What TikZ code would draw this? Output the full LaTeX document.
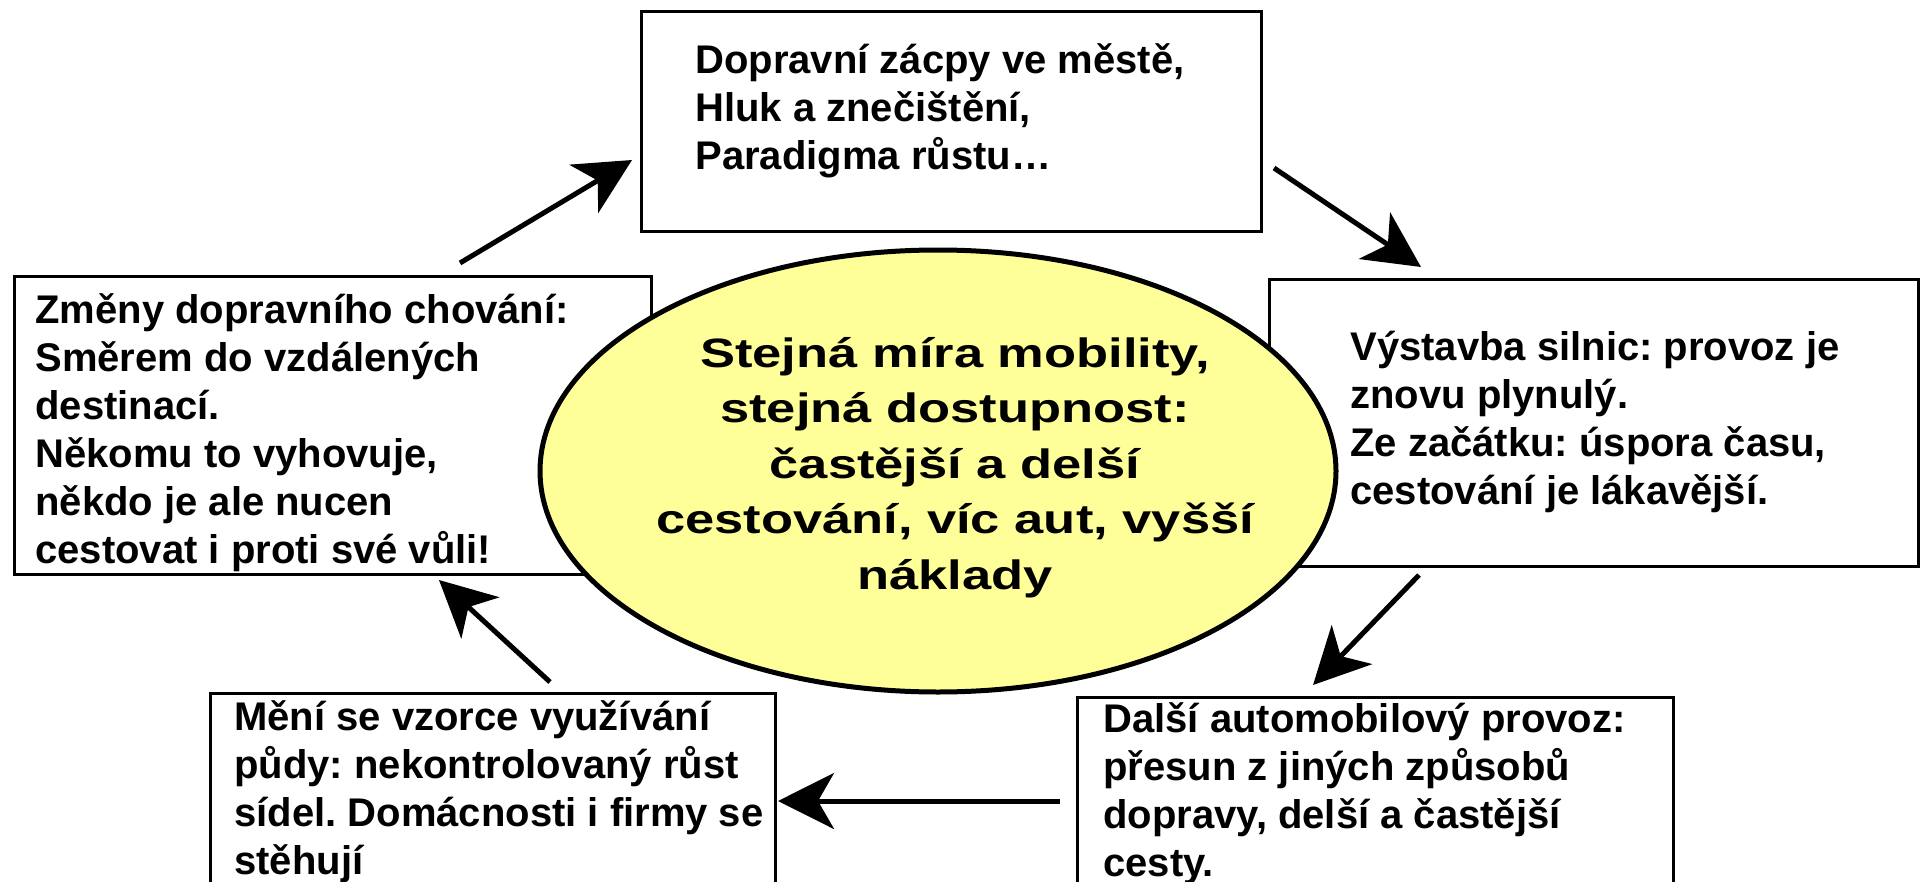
\documentclass[tikz,border=0pt]{standalone}
\usepackage{fontspec}
\setmainfont{Liberation Sans}
\newfontfamily\corefont[FakeStretch=1.28]{Liberation Sans}
\usetikzlibrary{arrows.meta,shapes.geometric}
\definecolor{coreyellow}{HTML}{FFFF99}
\frenchspacing
\tikzset{
  box/.style={draw=black, line width=1.5pt, fill=white, rectangle, inner sep=0pt, anchor=north west},
  boxtext/.style={anchor=north west, inner sep=0pt, align=left, font=\fontsize{20}{24}\selectfont\bfseries\frenchspacing},
  coretext/.style={anchor=north, inner sep=0pt, align=center, font=\corefont\fontsize{20.5}{27.75}\selectfont\bfseries\frenchspacing},
  flow/.style={line width=2.5pt, -{Stealth[length=28pt,width=28pt,inset=8pt]}}
}
\begin{document}
\begin{tikzpicture}[x=0.5pt,y=-0.5pt]
\useasboundingbox (0,0) rectangle (1920,882);
\clip (0,0) rectangle (1920,882);
% boxes
\node[box, minimum width=310pt, minimum height=110pt] (top) at (640,10) {};
\node[box, minimum width=318.75pt, minimum height=149pt] (left) at (12.5,275) {};
\node[box, minimum width=324.5pt, minimum height=143.5pt] (right) at (1268,278) {};
\node[box, minimum width=282.5pt, minimum height=120pt] (bl) at (209,692) {};
\node[box, minimum width=298pt, minimum height=120pt] (br) at (1076,696) {};
% centre ellipse
\node[ellipse, draw=black, line width=2.5pt, fill=coreyellow, minimum width=398pt, minimum height=221pt] (core) at (938,471) {};
\node[coretext] (coretxt) at (955,328) {\strut Stejná míra mobility,\\stejná dostupnost:\\častější a delší\\cestování, víc aut, vyšší\\náklady};
% texts
\node[boxtext] (toptxt) at (695,39.4) {\strut Dopravní zácpy ve městě,\\Hluk a znečištění,\\Paradigma růstu…};
\node[boxtext] (lefttxt) at (35,289.4) {\strut Změny dopravního chování:\\Směrem do vzdálených\\destinací.\\Někomu to vyhovuje,\\někdo je ale nucen\\cestovat i proti své vůli!};
\node[boxtext] (righttxt) at (1350,326.4) {\strut Výstavba silnic: provoz je\\znovu plynulý.\\Ze začátku: úspora času,\\cestování je lákavější.};
\node[boxtext] (bltxt) at (234,696.4) {\strut Mění se vzorce využívání\\půdy: nekontrolovaný růst\\sídel. Domácnosti i firmy se\\stěhují};
\node[boxtext] (brtxt) at (1103,698.4) {\strut Další automobilový provoz:\\přesun z jiných způsobů\\dopravy, delší a častější\\cesty.};
% arrow end points
\coordinate (a1s) at (460,263); \coordinate (a1e) at (632,160);
\coordinate (a2s) at (1274,168); \coordinate (a2e) at (1421,267);
\coordinate (a3s) at (1419,575); \coordinate (a3e) at (1313,685);
\coordinate (a4s) at (1060,801); \coordinate (a4e) at (778,801);
\coordinate (a5s) at (550,682); \coordinate (a5e) at (439,580);
\draw[flow] (a1s) -- (a1e);
\draw[flow] (a2s) -- (a2e);
\draw[flow] (a3s) -- (a3e);
\draw[flow] (a4s) -- (a4e);
\draw[flow] (a5s) -- (a5e);
\end{tikzpicture}
\end{document}
